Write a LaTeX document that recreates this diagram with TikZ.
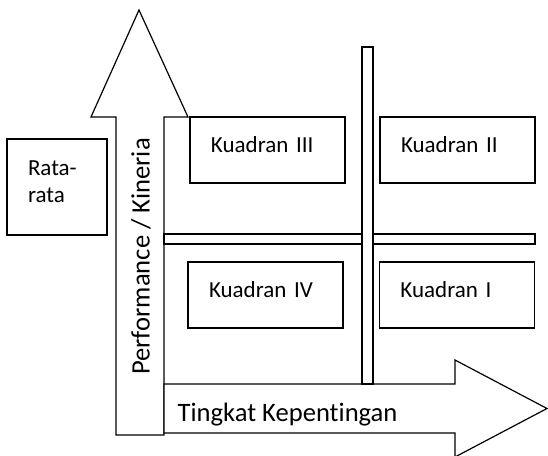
\documentclass[tikz,border=0pt]{standalone}
\usepackage{fontspec}
\setmainfont{Carlito}[Ligatures=NoCommon]
\usepackage{tikz}

\begin{document}
\begin{tikzpicture}[x=0.5pt,y=-0.5pt,line width=0.6pt,
		every node/.style={font=\fontsize{11.5}{13.5}\selectfont},
		quadbox/.style={rectangle,draw,fill=white,minimum width=77.5pt,minimum height=33pt,inner xsep=10.5pt,text width=56.5pt,align=left,text height=9pt,text depth=7pt},
		avgbox/.style={rectangle,draw,fill=white,minimum width=50pt,minimum height=48pt,inner xsep=10.5pt,text width=29pt,align=left,text height=2pt,text depth=14pt},
		axistext/.style={inner sep=0pt,font=\fontsize{13.3}{15}\selectfont},
		blockarrow/.style={draw,fill=white,line join=miter},
		bar/.style={draw,fill=white}
		]
		\useasboundingbox (0,0) rectangle (548,456);
		\draw[blockarrow] (116,435) -- (116,117) -- (91,117) -- (139,10) -- (188,117) -- (164,117) -- (164,435) -- cycle;
		\draw[blockarrow] (164,384) -- (455,384) -- (455,360) -- (547,408.5) -- (455,457) -- (455,433) -- (164,433) -- cycle;
		\draw[bar] (164,234) rectangle (535,244);
		\draw[bar] (362,47) rectangle (373,384);
		\node (avg) [avgbox] at (57,187) {Rata-\\rata};
		\node (q3) [quadbox] at (267.5,150) {Kuadran III};
		\node (q2) [quadbox] at (457.5,150) {Kuadran II};
		\node (q4) [quadbox] at (265.5,295) {Kuadran IV};
		\node (q1) [quadbox] at (457,295) {Kuadran I};
		\node (yaxis) [axistext,rotate=90] at (141,256.5) {Performance / Kineria};
		\node (xaxis) [axistext,anchor=west] at (177,414.5) {Tingkat Kepentingan};
\end{tikzpicture}
\end{document}
